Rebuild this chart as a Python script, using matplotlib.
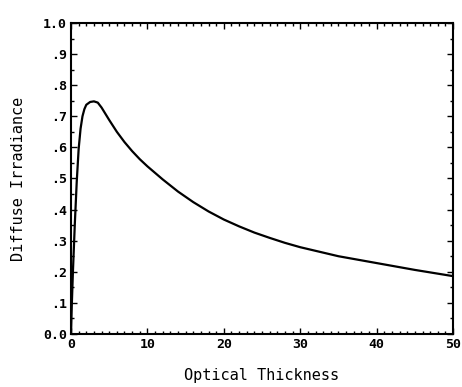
import numpy as np
import matplotlib.pyplot as plt
from matplotlib.ticker import MultipleLocator

# values
tau = [0, 0.1, 0.25, 0.5, 0.75, 1.0, 1.25, 1.5, 1.75, 2.0, 2.5, 3.0, 3.5, 4.0, 4.5,
       5.0, 6.0, 7.0, 8.0, 9.0, 10, 12, 14, 16, 18, 20, 22, 24, 26, 28, 30,
       35, 40, 45, 50]
irr = [0.0, 0.09, 0.2, 0.355, 0.49, 0.595, 0.66, 0.7, 0.723, 0.737, 0.746, 0.748, 0.744,
       0.728, 0.708, 0.688, 0.650, 0.617, 0.588, 0.562, 0.539, 0.497, 0.458, 0.424, 0.394,
       0.368, 0.346, 0.326, 0.309, 0.293, 0.279,
       0.250, 0.228, 0.206, 0.186]

yticks = [0.0, 0.1, 0.2, 0.3, 0.4, 0.5, 0.6, 0.7, 0.8, 0.9, 1.0]
ylabels = ["0.0", ".1", ".2", ".3", ".4", ".5", ".6", ".7", ".8", ".9", "1.0"]
xticks = [0, 10, 20, 30, 40, 50]

fig = plt.figure(figsize=(4.62, 3.87), dpi=100)
ax = fig.add_axes([0.1537, 0.137, 0.827, 0.8036])

ax.plot(tau, irr, color="black", lw=1.6)

ax.set_xlim(0, 50)
ax.set_ylim(0, 1.0)
ax.set_xticks(xticks)
ax.set_xticklabels([str(x) for x in xticks])
ax.set_yticks(yticks)
ax.set_yticklabels(ylabels)
ax.xaxis.set_minor_locator(MultipleLocator(1))
ax.yaxis.set_minor_locator(MultipleLocator(0.05))

ax.tick_params(which="both", direction="in", top=True, right=True, width=1.0)
ax.tick_params(which="major", length=4.5, pad=3)
ax.tick_params(which="minor", length=2.5)
for lab in ax.get_xticklabels() + ax.get_yticklabels():
    lab.set_fontfamily("DejaVu Sans Mono")
    lab.set_fontweight("bold")
    lab.set_fontsize(9.5)

for sp in ax.spines.values():
    sp.set_linewidth(1.5)

ax.set_xlabel("Optical Thickness", fontfamily="DejaVu Sans Mono", fontsize=11, labelpad=12)
ax.set_ylabel("Diffuse Irradiance", fontfamily="DejaVu Sans Mono", fontsize=11, labelpad=12)

fig.savefig("out.png", dpi=100)
